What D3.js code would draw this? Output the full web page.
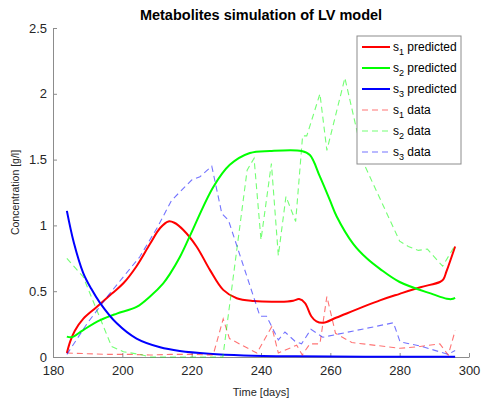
<!DOCTYPE html>
<html>
<head>
<meta charset="utf-8">
<script src="https://cdn.jsdelivr.net/npm/d3@7"></script>
<style>
    body { margin: 0; background: #fff; }
    svg { font-family: "Liberation Sans", Arial, Helvetica, sans-serif; }
</style>
</head>
<body>
<script>
// [day, concentration]
const s1Predicted = [[184, 0.03], [185, 0.12], [186.3, 0.2], [188.7, 0.29], [192.6, 0.38], [196.9, 0.48], [200.3, 0.56], [204.1, 0.69], [208, 0.86], [210.9, 0.98], [213.3, 1.03], [215, 1.02], [217.6, 0.965], [221.4, 0.84], [225.3, 0.66], [229.1, 0.51], [233, 0.446], [237.8, 0.425], [245.5, 0.42], [249.3, 0.428], [251, 0.44], [252.7, 0.41], [254.5, 0.31], [256, 0.27], [258, 0.26], [261.8, 0.3], [274.3, 0.43], [280, 0.48], [286, 0.53], [291.6, 0.57], [292.6, 0.59], [293.5, 0.65], [296, 0.84]]
const s2Predicted = [[184, 0.155], [185.4, 0.15], [188.7, 0.205], [193.6, 0.28], [198.4, 0.33], [204.1, 0.38], [208, 0.46], [211.8, 0.56], [213.7, 0.63], [216.6, 0.76], [219.5, 0.92], [226.2, 1.29], [231, 1.46], [236.8, 1.55], [242.6, 1.565], [251.7, 1.565], [254.1, 1.535], [257, 1.37], [259.9, 1.19], [261.8, 1.07], [266.6, 0.86], [270.5, 0.75], [274.3, 0.67], [280, 0.57], [289.7, 0.476], [293.6, 0.443], [295, 0.44], [296, 0.45]]
const s3Predicted = [[184, 1.11], [186, 0.87], [188.7, 0.64], [191, 0.52], [193.6, 0.41], [198.4, 0.256], [204.1, 0.14], [210.9, 0.074], [216.6, 0.046], [225, 0.025], [235, 0.012], [250, 0.005], [270, 0.002], [296, 0.001]]

const s1Data = [[184, 0.03], [190, 0.025], [196, 0.02], [202, 0.02], [208, 0.015], [214, 0.02], [220, 0.02], [226.2, 0.015], [229.1, 0.29], [230.9, 0.14], [238.8, 0.03], [243.1, 0.23], [245, 0.03], [250.3, 0.09], [251.9, 0.015], [254.1, 0.1], [257, 0.1], [259, 0.46], [261.5, 0.18], [266.2, 0.11], [280.1, 0.066], [285.9, 0.08], [291.6, 0.1], [294, 0.015], [296, 0.2]]
const s2Data = [[184, 0.75], [188.7, 0.61], [196.9, 0.08], [200.3, 0.04], [205, 0.02], [208, 0.0], [229, 0.0], [236, 1.42], [238, 1.51], [240, 0.89], [243, 1.47], [245, 0.77], [247.2, 1.22], [250, 1.03], [252, 1.68], [253.2, 1.68], [257, 2.0], [259, 1.57], [264.2, 2.12], [270, 1.45], [280, 0.88], [282.5, 0.84], [285.4, 0.81], [288, 0.82], [292.4, 0.69], [296, 0.85]]
const s3Data = [[184, 0.02], [190, 0.26], [196, 0.47], [200, 0.6], [205, 0.76], [210, 0.98], [214.2, 1.19], [220, 1.345], [222.4, 1.37], [225.8, 1.45], [228.7, 1.09], [230.6, 1.04], [239.7, 0.31], [241.6, 0.31], [245, 0.13], [246.9, 0.19], [249.8, 0.12], [251.7, 0.1], [254.4, 0.21], [257.8, 0.15], [278.2, 0.26], [280.1, 0.116], [286.4, 0.08], [294, 0.02], [296, 0.05]]

const xTicks = [180, 200, 220, 240, 260, 280, 300]
const yTicks = [0, 0.5, 1, 1.5, 2, 2.5]
const legendLabels = [["s", "1", " predicted"], ["s", "2", " predicted"], ["s", "3", " predicted"], ["s", "1", " data"], ["s", "2", " data"], ["s", "3", " data"]]

const width = 482
const height = 403
const plot = { left: 53, right: 469, top: 28, bottom: 357 }

const svg = d3.select("body")
    .append("svg")
    .attr("width", width)
    .attr("height", height)

const x = d3.scaleLinear().domain([180, 300]).range([plot.left, plot.right])
const y = d3.scaleLinear().domain([0, 2.5]).range([plot.bottom, plot.top])

const series = [
    { values: s1Predicted, color: "#ff0000", dashed: false },
    { values: s2Predicted, color: "#00ff00", dashed: false },
    { values: s3Predicted, color: "#0000ff", dashed: false },
    { values: s1Data, color: "#ff0000", dashed: true },
    { values: s2Data, color: "#00ff00", dashed: true },
    { values: s3Data, color: "#0000ff", dashed: true }
]

// axes, only left and bottom, ticks pointing inward
const xAxis = svg.append("g")
    .attr("transform", `translate(0,${plot.bottom})`)
    .call(d3.axisBottom(x).tickValues(xTicks).tickSizeInner(-4).tickSizeOuter(0).tickPadding(9).tickFormat(d3.format("d")))
const yAxis = svg.append("g")
    .attr("transform", `translate(${plot.left},0)`)
    .call(d3.axisLeft(y).tickValues(yTicks).tickSizeInner(-4).tickSizeOuter(0).tickPadding(6).tickFormat((d) => String(d)))

for (const axis of [xAxis, yAxis]) {
    axis.select(".domain").attr("stroke", "#8c8c8c")
    axis.selectAll(".tick line").attr("stroke", "#8c8c8c")
    axis.selectAll(".tick text").attr("fill", "#262626").attr("font-size", "13px").attr("font-family", null)
}

const lineSmooth = d3.line().x((d) => x(d[0])).y((d) => y(d[1])).curve(d3.curveCatmullRom.alpha(0.5))
const lineStraight = d3.line().x((d) => x(d[0])).y((d) => y(d[1]))

svg.append("g")
    .selectAll("path")
    .data(series)
    .join("path")
    .attr("d", (d) => d.dashed ? lineStraight(d.values) : lineSmooth(d.values))
    .attr("fill", "none")
    .attr("stroke", (d) => d.color)
    .attr("stroke-opacity", (d) => d.dashed ? 0.55 : 1)
    .attr("stroke-width", (d) => d.dashed ? 1.1 : 2)
    .attr("stroke-dasharray", (d) => d.dashed ? "6,4" : null)

// title and axis labels
svg.append("text")
    .attr("x", (plot.left + plot.right) / 2)
    .attr("y", 20)
    .attr("text-anchor", "middle")
    .attr("font-size", "14.5px")
    .attr("font-weight", "bold")
    .attr("fill", "#000")
    .text("Metabolites simulation of LV model")

svg.append("text")
    .attr("x", (plot.left + plot.right) / 2)
    .attr("y", 396)
    .attr("text-anchor", "middle")
    .attr("font-size", "11px")
    .attr("fill", "#262626")
    .text("Time [days]")

svg.append("text")
    .attr("transform", `translate(19,${(plot.top + plot.bottom) / 2}) rotate(-90)`)
    .attr("text-anchor", "middle")
    .attr("font-size", "10.5px")
    .attr("fill", "#262626")
    .text("Concentration [g/l]")

// legend
const legend = svg.append("g").attr("transform", "translate(357,36)")
legend.append("rect")
    .attr("width", 104)
    .attr("height", 128)
    .attr("fill", "#fff")
    .attr("stroke", "#8c8c8c")

const rows = legend.selectAll("g.row")
    .data(series)
    .join("g")
    .attr("class", "row")
    .attr("transform", (d, i) => `translate(0,${11 + i * 21})`)

rows.append("line")
    .attr("x1", 5)
    .attr("x2", 33)
    .attr("stroke", (d) => d.color)
    .attr("stroke-opacity", (d) => d.dashed ? 0.55 : 1)
    .attr("stroke-width", (d) => d.dashed ? 1.1 : 2)
    .attr("stroke-dasharray", (d) => d.dashed ? "6,4" : null)

const labels = rows.append("text")
    .attr("x", 36)
    .attr("y", 4)
    .attr("font-size", "12px")
    .attr("fill", "#000")
labels.append("tspan").text((d, i) => legendLabels[i][0])
labels.append("tspan").attr("dy", 4).attr("font-size", "9px").text((d, i) => legendLabels[i][1])
labels.append("tspan").attr("dy", -4).text((d, i) => legendLabels[i][2])
</script>
</body>
</html>
